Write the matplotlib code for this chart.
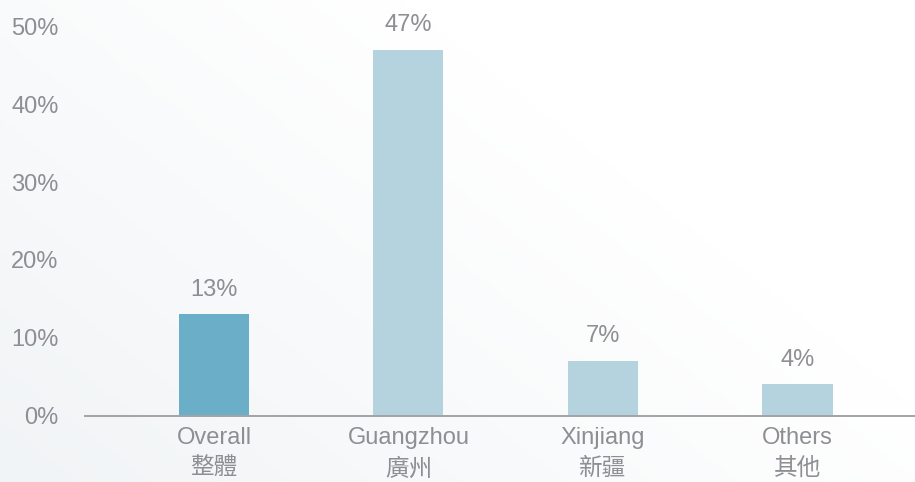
import numpy as np
import matplotlib
matplotlib.use("Agg")
import matplotlib.pyplot as plt

# chart data
categories = ["Overall\n整體", "Guangzhou\n廣州", "Xinjiang\n新疆", "Others\n其他"]
values = [13, 47, 7, 4]
yticks = [0, 10, 20, 30, 40, 50]

plt.rcParams['font.family'] = ['Liberation Sans', 'Noto Sans CJK TC', 'DejaVu Sans']
grey = "#8e8e93"
dark_bar = "#6aafc7"
light_bar = "#b4d3de"

fig = plt.figure(figsize=(9.15, 4.82), dpi=100)

# faint diagonal background shade
bg = fig.add_axes([0, 0, 1, 1], zorder=-1)
gx, gy = np.meshgrid(np.linspace(0, 1, 200), np.linspace(0, 1, 120))
shade = np.clip(1 - (gx * 0.9 + (1 - gy) * 0.6), 0, 1)
bg.imshow(shade, cmap=matplotlib.colors.LinearSegmentedColormap.from_list("bg", ["#ffffff", "#f1f4f6"]),
          extent=[0, 1, 0, 1], aspect="auto", origin="upper")
bg.axis("off")

ax = fig.add_axes([85 / 915, 1 - 415.5 / 482, 830 / 915, 415.5 / 482])
ax.patch.set_alpha(0)

x = np.arange(len(categories))
colors = [dark_bar] + [light_bar] * (len(values) - 1)
bars = ax.bar(x, values, width=0.36, color=colors, zorder=2)

for b, v in zip(bars, values):
    ax.annotate(f"{v}%", (b.get_x() + b.get_width() / 2, v), xytext=(0, 13.5),
                textcoords="offset points", ha="center", va="baseline",
                fontsize=17, color=grey)

ax.set_xlim(-0.663, 3.604)
ax.set_ylim(0, 53.4)
ax.set_yticks(yticks)
ax.set_yticklabels([f"{t}%" for t in yticks])
ax.set_xticks(x)
ax.set_xticklabels(categories, linespacing=1.55)
ax.tick_params(axis="both", length=0, labelsize=17, colors=grey)
ax.tick_params(axis="y", pad=19)
ax.tick_params(axis="x", pad=8)

for s in ["top", "right", "left"]:
    ax.spines[s].set_visible(False)
ax.spines["bottom"].set_color("#a3a3a6")
ax.spines["bottom"].set_linewidth(1.4)
ax.spines["bottom"].set_zorder(3)

fig.savefig("out.png", dpi=100)
